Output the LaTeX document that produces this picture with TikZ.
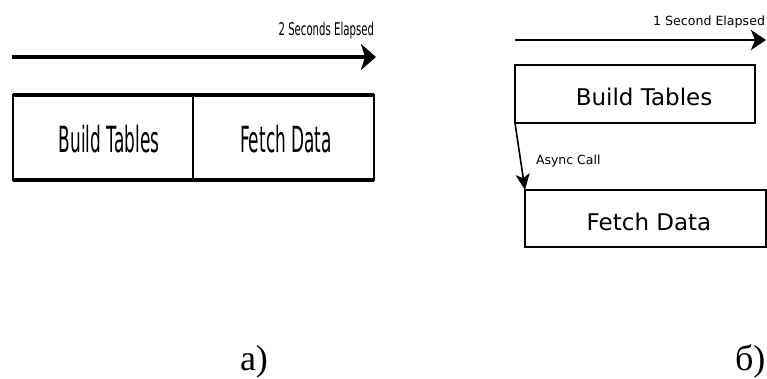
\documentclass[tikz,border=0pt]{standalone}
\usepackage{fontspec}
\setmainfont{Liberation Serif}
\newfontfamily\dv{DejaVu Sans}
\usetikzlibrary{arrows.meta}
\begin{document}
\begin{tikzpicture}[x=1pt,y=-1pt,
  boxshape/.style={draw, rectangle, inner sep=0pt, outer sep=0pt},
  lbl/.style={inner sep=0pt, outer sep=0pt},
]
\useasboundingbox (0,0) rectangle (767,378);
% ---------- a) ----------
\coordinate (ta) at (12,57);
\coordinate (tb) at (376,57);
\draw[line width=3.8pt, -{Stealth[length=15pt,width=26pt,inset=4pt]}] (ta) -- (tb);
\node[lbl, anchor=base east] (t2) at (374,35) {\scalebox{0.58}[1]{\dv\fontsize{17.5}{17.5}\selectfont 2 Seconds Elapsed}};
\node[boxshape, line width=2pt, minimum width=361pt, minimum height=85pt] (lbox) at (193,137.5) {};
\draw[line width=3.5pt] (lbox.north west) -- (lbox.north east);
\draw[line width=3.5pt] (lbox.south west) -- (lbox.south east);
\draw[line width=1.8pt] (lbox.north) -- (lbox.south);
\node[lbl, anchor=base] (lbt) at (109,152) {\scalebox{0.47}[1]{\dv\fontsize{36}{36}\selectfont Build Tables}};
\node[lbl, anchor=base] (lfd) at (286,152) {\scalebox{0.47}[1]{\dv\fontsize{36}{36}\selectfont Fetch Data}};
% ---------- b) ----------
\coordinate (ra) at (515,40);
\coordinate (rb) at (766,40);
\draw[line width=2.5pt, -{Stealth[length=15pt,width=20pt,inset=4pt]}] (ra) -- (rb);
\node[lbl, anchor=base east] (t1) at (765,25) {\dv\fontsize{12.6}{13}\selectfont 1 Second Elapsed};
\node[boxshape, line width=1.8pt, minimum width=240pt, minimum height=58pt] (rbt) at (635,94) {};
\node[lbl, anchor=base] (rbtl) at (644,105) {\dv\fontsize{23}{23}\selectfont Build Tables};
\node[boxshape, line width=1.8pt, minimum width=241pt, minimum height=57pt] (rfd) at (645.5,218.5) {};
\node[lbl, anchor=base] (rfdl) at (649,230) {\dv\fontsize{23}{23}\selectfont Fetch Data};
\draw[line width=1.6pt, -{Stealth[length=16pt,width=14pt,inset=4pt]}] (rbt.south west) -- (rfd.north west);
\node[lbl, anchor=base west] (ac) at (536,164) {\dv\fontsize{12.5}{13}\selectfont Async Call};
% ---------- captions ----------
\node[lbl, anchor=base west] (la) at (240,370) {\fontsize{36}{36}\selectfont а)};
\node[lbl, anchor=base west] (lb) at (735,370) {\fontsize{36}{36}\selectfont б)};
\end{tikzpicture}
\end{document}
